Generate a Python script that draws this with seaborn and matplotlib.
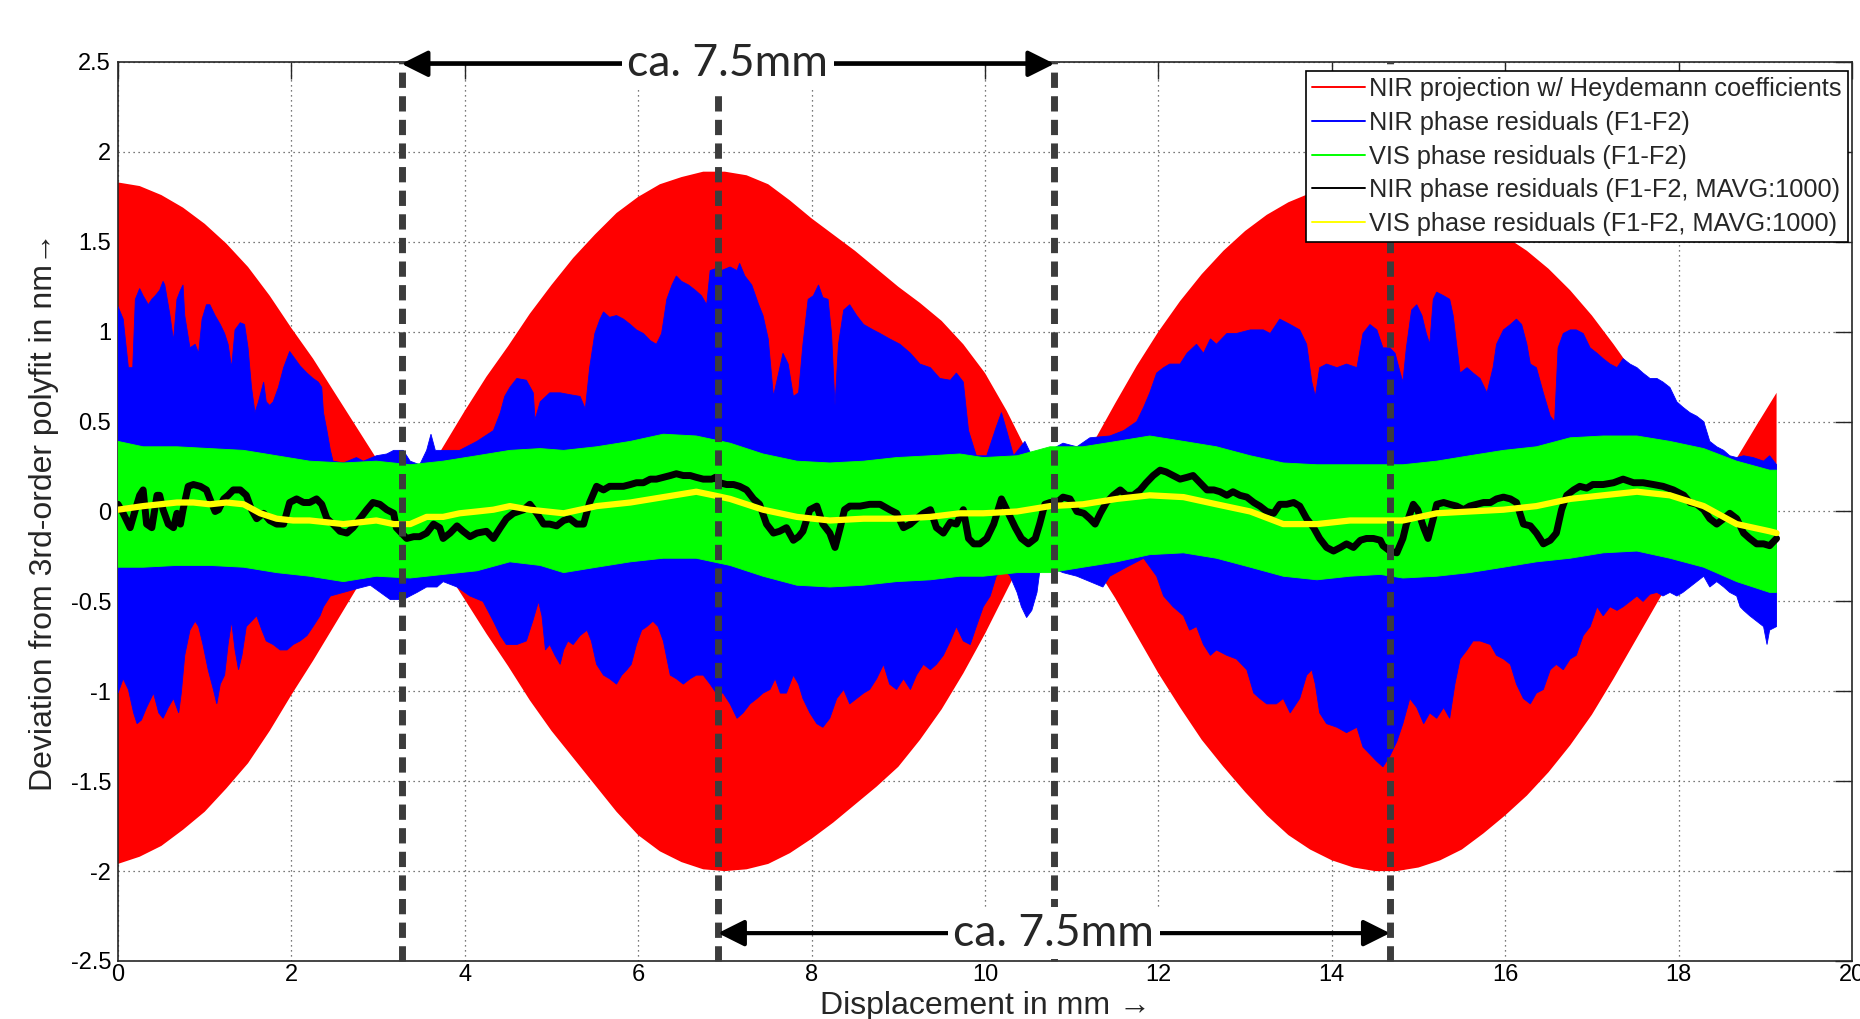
import numpy as np
import pandas as pd
import matplotlib
matplotlib.use("Agg")
import matplotlib.pyplot as plt
from matplotlib.lines import Line2D
import seaborn as sns

# ---------------- data ----------------
# NIR projection w/ Heydemann coefficients (envelope of dense oscillation)
red_up_x = [0.0, 0.25, 0.5, 0.75, 1.0, 1.25, 1.5, 1.75, 2.0, 2.25, 2.5, 2.75, 3.0, 3.15, 3.3, 3.45, 3.6, 3.8,
            4.0, 4.25, 4.5, 4.75, 5.0, 5.25, 5.5, 5.75, 6.0, 6.25, 6.5, 6.75, 7.0, 7.25, 7.5, 7.75, 8.0, 8.25,
            8.5, 8.75, 9.0, 9.25, 9.5, 9.75, 10.0, 10.25, 10.5, 10.65, 10.8, 11.0, 11.2, 11.5, 11.75, 12.0,
            12.25, 12.5, 12.75, 13.0, 13.25, 13.5, 13.75, 14.0, 14.25, 14.5, 14.75, 15.0, 15.25, 15.5, 15.75,
            16.0, 16.25, 16.5, 16.75, 17.0, 17.25, 17.5, 17.75, 18.0, 18.15, 18.3, 18.5, 18.7, 18.9, 19.13]
red_up_y = [1.83, 1.81, 1.76, 1.69, 1.60, 1.49, 1.36, 1.20, 1.02, 0.85, 0.66, 0.47, 0.28, 0.15, 0.0, 0.12,
            0.24, 0.40, 0.56, 0.75, 0.92, 1.10, 1.26, 1.41, 1.54, 1.66, 1.75, 1.82, 1.86, 1.89, 1.89, 1.87,
            1.82, 1.73, 1.63, 1.54, 1.45, 1.35, 1.25, 1.16, 1.06, 0.93, 0.77, 0.56, 0.32, 0.16, 0.0, 0.17,
            0.34, 0.60, 0.81, 1.00, 1.17, 1.32, 1.45, 1.56, 1.65, 1.72, 1.77, 1.80, 1.81, 1.80, 1.78, 1.76,
            1.72, 1.67, 1.61, 1.53, 1.45, 1.35, 1.23, 1.09, 0.93, 0.76, 0.56, 0.34, 0.17, 0.0, 0.16, 0.32,
            0.48, 0.66]
red_lo_x = red_up_x
red_lo_y = [-1.96, -1.92, -1.86, -1.77, -1.67, -1.54, -1.40, -1.22, -1.02, -0.83, -0.63, -0.43, -0.24, -0.12,
            0.0, -0.09, -0.19, -0.34, -0.49, -0.68, -0.86, -1.05, -1.22, -1.37, -1.52, -1.67, -1.80, -1.89,
            -1.95, -1.99, -2.0, -1.99, -1.96, -1.90, -1.82, -1.73, -1.63, -1.53, -1.42, -1.27, -1.10, -0.90,
            -0.68, -0.44, -0.20, -0.09, 0.0, -0.13, -0.25, -0.48, -0.69, -0.90, -1.09, -1.27, -1.42, -1.56,
            -1.69, -1.80, -1.88, -1.94, -1.98, -2.0, -2.0, -1.98, -1.94, -1.88, -1.79, -1.69, -1.58, -1.45,
            -1.30, -1.13, -0.93, -0.72, -0.51, -0.30, -0.15, 0.0, -0.15, -0.30, -0.45, -0.62]

# NIR phase residuals (F1-F2): upper / lower envelope
blue_up = [(0.0, 1.14), (0.06, 1.07), (0.12, 0.80), (0.17, 0.80), (0.20, 1.18), (0.25, 1.24), (0.29, 1.20),
           (0.35, 1.15), (0.39, 1.18), (0.43, 1.20), (0.48, 1.23), (0.52, 1.28), (0.54, 1.26), (0.60, 1.09),
           (0.64, 0.95), (0.68, 1.18), (0.72, 1.23), (0.75, 1.26), (0.77, 1.09), (0.83, 0.91), (0.89, 0.93),
           (0.93, 0.88), (0.97, 1.07), (1.02, 1.15), (1.06, 1.15), (1.12, 1.09), (1.18, 1.04), (1.23, 0.99),
           (1.27, 0.93), (1.31, 0.80), (1.35, 1.01), (1.41, 1.05), (1.46, 1.04), (1.50, 0.91), (1.54, 0.69),
           (1.58, 0.55), (1.62, 0.61), (1.68, 0.72), (1.71, 0.61), (1.75, 0.59), (1.79, 0.61), (1.85, 0.69),
           (1.91, 0.80), (1.98, 0.89), (2.04, 0.85), (2.10, 0.81), (2.18, 0.77), (2.25, 0.74), (2.31, 0.72),
           (2.35, 0.69), (2.37, 0.55), (2.41, 0.45), (2.45, 0.34), (2.48, 0.28), (2.60, 0.27), (2.75, 0.30),
           (2.83, 0.28), (2.98, 0.31), (3.10, 0.32), (3.18, 0.34), (3.29, 0.34), (3.37, 0.28), (3.48, 0.26),
           (3.56, 0.34), (3.61, 0.43), (3.66, 0.34), (3.75, 0.34), (3.94, 0.34), (4.14, 0.39), (4.33, 0.45),
           (4.41, 0.55), (4.46, 0.64), (4.52, 0.69), (4.60, 0.74), (4.71, 0.73), (4.79, 0.66), (4.81, 0.51),
           (4.87, 0.61), (4.98, 0.66), (5.10, 0.66), (5.21, 0.65), (5.33, 0.64), (5.39, 0.57), (5.44, 0.80),
           (5.50, 0.99), (5.56, 1.07), (5.60, 1.11), (5.67, 1.08), (5.75, 1.09), (5.83, 1.07), (5.91, 1.04),
           (5.98, 1.01), (6.06, 0.99), (6.14, 0.95), (6.21, 0.93), (6.27, 0.99), (6.33, 1.18), (6.39, 1.26),
           (6.44, 1.31), (6.50, 1.28), (6.58, 1.26), (6.66, 1.23), (6.73, 1.20), (6.79, 1.15), (6.83, 1.34),
           (6.89, 1.35), (6.96, 1.34), (7.06, 1.36), (7.14, 1.34), (7.17, 1.38), (7.23, 1.31), (7.31, 1.26),
           (7.39, 1.15), (7.44, 1.09), (7.50, 0.96), (7.56, 0.64), (7.62, 0.77), (7.67, 0.88), (7.73, 0.82),
           (7.79, 0.64), (7.85, 0.66), (7.90, 0.93), (7.96, 1.18), (8.02, 1.20), (8.08, 1.26), (8.13, 1.19),
           (8.19, 1.18), (8.23, 0.99), (8.27, 0.59), (8.31, 0.93), (8.37, 1.12), (8.44, 1.15), (8.52, 1.09),
           (8.60, 1.04), (8.71, 1.01), (8.79, 0.99), (8.90, 0.96), (9.02, 0.93), (9.14, 0.88), (9.25, 0.82),
           (9.37, 0.80), (9.48, 0.74), (9.60, 0.73), (9.67, 0.77), (9.75, 0.72), (9.81, 0.45), (9.90, 0.31),
           (10.02, 0.31), (10.13, 0.47), (10.19, 0.55), (10.25, 0.45), (10.33, 0.31), (10.46, 0.39),
           (10.54, 0.31), (10.75, 0.34), (10.90, 0.38), (11.06, 0.36), (11.21, 0.41), (11.44, 0.42),
           (11.60, 0.45), (11.75, 0.50), (11.83, 0.58), (11.90, 0.66), (11.98, 0.77), (12.06, 0.80),
           (12.13, 0.82), (12.25, 0.82), (12.33, 0.88), (12.44, 0.93), (12.52, 0.88), (12.60, 0.96),
           (12.67, 0.93), (12.79, 0.99), (12.90, 0.99), (13.06, 1.01), (13.21, 1.01), (13.29, 0.99),
           (13.40, 1.07), (13.52, 1.04), (13.63, 1.01), (13.71, 0.93), (13.77, 0.72), (13.81, 0.64),
           (13.86, 0.80), (13.94, 0.82), (14.06, 0.80), (14.17, 0.82), (14.29, 0.80), (14.36, 0.99),
           (14.44, 1.04), (14.52, 1.01), (14.59, 0.91), (14.67, 0.91), (14.73, 0.88), (14.79, 0.77),
           (14.82, 0.72), (14.86, 0.91), (14.92, 1.12), (14.98, 1.15), (15.04, 1.09), (15.09, 0.99),
           (15.13, 0.93), (15.17, 1.18), (15.21, 1.22), (15.29, 1.20), (15.36, 1.18), (15.40, 1.09),
           (15.44, 0.93), (15.48, 0.77), (15.56, 0.80), (15.63, 0.77), (15.71, 0.74), (15.79, 0.66),
           (15.86, 0.80), (15.90, 0.93), (15.98, 1.01), (16.06, 1.04), (16.13, 1.07), (16.19, 1.04),
           (16.25, 0.93), (16.29, 0.82), (16.36, 0.80), (16.44, 0.66), (16.52, 0.53), (16.57, 0.50),
           (16.61, 0.91), (16.67, 0.99), (16.75, 1.01), (16.82, 1.01), (16.90, 0.99), (16.98, 0.91),
           (17.06, 0.88), (17.13, 0.85), (17.21, 0.82), (17.29, 0.80), (17.36, 0.85), (17.44, 0.82),
           (17.52, 0.80), (17.59, 0.77), (17.67, 0.74), (17.75, 0.74), (17.82, 0.72), (17.90, 0.69),
           (17.98, 0.61), (18.05, 0.58), (18.13, 0.55), (18.21, 0.53), (18.29, 0.50), (18.36, 0.39),
           (18.44, 0.36), (18.52, 0.34), (18.59, 0.31), (18.67, 0.30), (18.75, 0.31), (18.86, 0.30),
           (18.98, 0.28), (19.05, 0.31), (19.13, 0.26)]
blue_lo = [(0.0, -1.01), (0.06, -0.93), (0.12, -0.99), (0.18, -1.12), (0.22, -1.18), (0.27, -1.16),
           (0.33, -1.09), (0.41, -1.01), (0.47, -1.12), (0.52, -1.15), (0.58, -1.09), (0.64, -1.04),
           (0.70, -1.12), (0.73, -1.01), (0.77, -0.80), (0.83, -0.66), (0.89, -0.61), (0.93, -0.64),
           (0.98, -0.74), (1.04, -0.88), (1.10, -0.99), (1.14, -1.07), (1.18, -0.96), (1.23, -0.91),
           (1.27, -0.74), (1.31, -0.61), (1.35, -0.77), (1.39, -0.88), (1.43, -0.80), (1.48, -0.64),
           (1.54, -0.61), (1.60, -0.58), (1.66, -0.66), (1.71, -0.72), (1.79, -0.74), (1.87, -0.77),
           (1.95, -0.77), (2.02, -0.74), (2.10, -0.72), (2.18, -0.69), (2.25, -0.64), (2.33, -0.58),
           (2.37, -0.53), (2.45, -0.47), (2.60, -0.45), (2.75, -0.43), (2.91, -0.41), (3.14, -0.49),
           (3.29, -0.49), (3.45, -0.45), (3.56, -0.42), (3.68, -0.42), (3.75, -0.39), (3.91, -0.42),
           (4.06, -0.47), (4.21, -0.50), (4.33, -0.61), (4.41, -0.69), (4.48, -0.74), (4.60, -0.74),
           (4.71, -0.72), (4.79, -0.60), (4.85, -0.50), (4.89, -0.58), (4.93, -0.77), (4.98, -0.74),
           (5.04, -0.80), (5.10, -0.85), (5.14, -0.77), (5.19, -0.72), (5.25, -0.74), (5.33, -0.69),
           (5.41, -0.66), (5.46, -0.72), (5.52, -0.85), (5.60, -0.91), (5.67, -0.93), (5.75, -0.96),
           (5.81, -0.91), (5.87, -0.88), (5.92, -0.85), (5.98, -0.74), (6.04, -0.66), (6.10, -0.64),
           (6.17, -0.61), (6.23, -0.64), (6.29, -0.72), (6.37, -0.91), (6.44, -0.93), (6.52, -0.96),
           (6.60, -0.93), (6.67, -0.91), (6.75, -0.91), (6.83, -0.96), (6.90, -1.01), (6.98, -1.01),
           (7.06, -1.07), (7.14, -1.15), (7.21, -1.12), (7.29, -1.07), (7.37, -1.04), (7.44, -1.01),
           (7.52, -0.99), (7.58, -0.93), (7.64, -1.01), (7.71, -1.01), (7.79, -0.91), (7.85, -0.96),
           (7.90, -1.04), (7.98, -1.12), (8.06, -1.18), (8.13, -1.20), (8.21, -1.15), (8.29, -1.04),
           (8.37, -0.99), (8.44, -1.07), (8.52, -1.04), (8.60, -1.01), (8.67, -0.99), (8.75, -0.93),
           (8.83, -0.85), (8.90, -0.96), (8.98, -0.99), (9.06, -0.93), (9.14, -0.99), (9.21, -0.91),
           (9.29, -0.85), (9.37, -0.88), (9.44, -0.85), (9.52, -0.80), (9.60, -0.72), (9.67, -0.64),
           (9.75, -0.72), (9.83, -0.74), (9.90, -0.64), (9.98, -0.53), (10.06, -0.47), (10.13, -0.36),
           (10.21, -0.31), (10.29, -0.36), (10.37, -0.45), (10.42, -0.53), (10.48, -0.59), (10.54, -0.55),
           (10.60, -0.45), (10.63, -0.34), (10.75, -0.31), (10.90, -0.34), (11.06, -0.36), (11.21, -0.39),
           (11.36, -0.42), (11.44, -0.36), (11.63, -0.31), (11.83, -0.26), (11.98, -0.36), (12.06, -0.47),
           (12.17, -0.53), (12.29, -0.58), (12.36, -0.66), (12.44, -0.64), (12.52, -0.74), (12.60, -0.80),
           (12.67, -0.77), (12.79, -0.80), (12.90, -0.82), (13.02, -0.88), (13.10, -1.01), (13.17, -1.04),
           (13.25, -1.07), (13.36, -1.07), (13.44, -1.04), (13.52, -1.12), (13.63, -1.04), (13.71, -0.91),
           (13.77, -0.88), (13.81, -0.96), (13.86, -1.12), (13.94, -1.18), (14.06, -1.20), (14.17, -1.23),
           (14.29, -1.20), (14.36, -1.31), (14.44, -1.35), (14.52, -1.39), (14.59, -1.42), (14.67, -1.36),
           (14.75, -1.28), (14.82, -1.18), (14.90, -1.04), (14.98, -1.09), (15.06, -1.18), (15.13, -1.12),
           (15.21, -1.15), (15.29, -1.09), (15.36, -1.15), (15.42, -0.96), (15.48, -0.82), (15.56, -0.77),
           (15.63, -0.72), (15.71, -0.72), (15.83, -0.74), (15.90, -0.80), (15.98, -0.82), (16.06, -0.85),
           (16.13, -0.96), (16.21, -1.04), (16.29, -1.07), (16.36, -1.01), (16.44, -0.99), (16.52, -0.88),
           (16.59, -0.85), (16.67, -0.88), (16.75, -0.82), (16.82, -0.80), (16.90, -0.69), (16.98, -0.64),
           (17.06, -0.53), (17.13, -0.58), (17.21, -0.53), (17.29, -0.55), (17.36, -0.53), (17.44, -0.50),
           (17.52, -0.47), (17.59, -0.50), (17.67, -0.46), (17.75, -0.45), (17.82, -0.47), (17.90, -0.45),
           (17.98, -0.47), (18.05, -0.45), (18.13, -0.42), (18.21, -0.39), (18.29, -0.36), (18.36, -0.42),
           (18.44, -0.39), (18.52, -0.42), (18.59, -0.45), (18.67, -0.47), (18.71, -0.53), (18.75, -0.55),
           (18.82, -0.58), (18.90, -0.61), (18.98, -0.64), (19.02, -0.74), (19.05, -0.66), (19.13, -0.64)]

# VIS phase residuals (F1-F2): upper / lower envelope
green_x = [0.0, 0.29, 0.68, 1.06, 1.45, 1.83, 2.21, 2.60, 2.98, 3.37, 3.75, 4.14, 4.52, 4.87, 5.14, 5.52, 5.91,
           6.29, 6.67, 7.06, 7.44, 7.83, 8.21, 8.60, 8.98, 9.37, 9.71, 9.98, 10.37, 10.75, 11.13, 11.52, 11.90,
           12.29, 12.67, 13.06, 13.44, 13.83, 14.21, 14.56, 14.82, 15.21, 15.59, 15.98, 16.36, 16.75, 17.13,
           17.52, 17.90, 18.29, 18.67, 19.05, 19.13]
green_up = [0.39, 0.36, 0.36, 0.35, 0.34, 0.31, 0.28, 0.27, 0.28, 0.26, 0.28, 0.31, 0.34, 0.35, 0.34, 0.36,
            0.39, 0.43, 0.42, 0.38, 0.32, 0.28, 0.27, 0.28, 0.30, 0.31, 0.32, 0.30, 0.31, 0.36, 0.36, 0.39,
            0.42, 0.39, 0.36, 0.31, 0.27, 0.26, 0.26, 0.26, 0.26, 0.28, 0.31, 0.34, 0.36, 0.41, 0.42, 0.42,
            0.39, 0.35, 0.28, 0.23, 0.23]
green_lo = [-0.31, -0.31, -0.30, -0.30, -0.31, -0.34, -0.36, -0.39, -0.36, -0.37, -0.35, -0.33, -0.28, -0.30,
            -0.34, -0.31, -0.28, -0.26, -0.26, -0.30, -0.36, -0.41, -0.42, -0.41, -0.39, -0.38, -0.36, -0.36,
            -0.34, -0.34, -0.31, -0.28, -0.24, -0.23, -0.26, -0.31, -0.36, -0.38, -0.36, -0.35, -0.37, -0.36,
            -0.34, -0.31, -0.28, -0.26, -0.23, -0.22, -0.26, -0.31, -0.39, -0.45, -0.45]

# NIR phase residuals (F1-F2, MAVG:1000)
black_pts = [(0.0, 0.04), (0.06, -0.01), (0.14, -0.09), (0.20, 0.01), (0.25, 0.09), (0.29, 0.12), (0.33, -0.07),
             (0.39, -0.09), (0.45, 0.09), (0.48, 0.09), (0.52, 0.01), (0.58, -0.07), (0.64, -0.09), (0.68, -0.01),
             (0.72, -0.07), (0.75, 0.01), (0.81, 0.14), (0.87, 0.15), (0.95, 0.14), (1.02, 0.12), (1.06, 0.07),
             (1.12, 0.0), (1.16, 0.01), (1.22, 0.07), (1.27, 0.09), (1.33, 0.12), (1.41, 0.12), (1.48, 0.09),
             (1.54, 0.01), (1.60, -0.04), (1.68, -0.01), (1.75, -0.05), (1.83, -0.07), (1.91, -0.07),
             (1.98, 0.05), (2.06, 0.07), (2.14, 0.05), (2.21, 0.05), (2.29, 0.07), (2.35, 0.04), (2.41, -0.04),
             (2.48, -0.07), (2.56, -0.11), (2.64, -0.12), (2.71, -0.09), (2.79, -0.04), (2.87, 0.01),
             (2.94, 0.05), (3.02, 0.04), (3.10, 0.01), (3.18, -0.01), (3.21, -0.09), (3.27, -0.12),
             (3.33, -0.15), (3.41, -0.14), (3.48, -0.14), (3.56, -0.12), (3.64, -0.07), (3.71, -0.09),
             (3.75, -0.15), (3.83, -0.12), (3.91, -0.08), (3.98, -0.11), (4.06, -0.14), (4.14, -0.12),
             (4.25, -0.11), (4.33, -0.15), (4.41, -0.09), (4.48, -0.04), (4.56, -0.01), (4.68, 0.01),
             (4.75, 0.04), (4.83, -0.01), (4.91, -0.07), (4.98, -0.07), (5.06, -0.08), (5.14, -0.05),
             (5.21, -0.04), (5.29, -0.07), (5.37, -0.07), (5.44, 0.05), (5.52, 0.14), (5.60, 0.12),
             (5.67, 0.14), (5.75, 0.14), (5.83, 0.14), (5.91, 0.15), (5.98, 0.16), (6.06, 0.16), (6.14, 0.18),
             (6.21, 0.18), (6.29, 0.19), (6.37, 0.20), (6.44, 0.21), (6.52, 0.20), (6.60, 0.20), (6.67, 0.19),
             (6.75, 0.18), (6.85, 0.18), (6.89, 0.19), (6.94, 0.16), (7.02, 0.15), (7.10, 0.15), (7.17, 0.14),
             (7.25, 0.12), (7.33, 0.07), (7.40, 0.04), (7.48, -0.07), (7.56, -0.12), (7.63, -0.11),
             (7.71, -0.09), (7.79, -0.16), (7.85, -0.14), (7.90, -0.11), (7.98, 0.01), (8.06, 0.03),
             (8.13, -0.07), (8.21, -0.12), (8.27, -0.20), (8.33, -0.09), (8.38, 0.01), (8.44, 0.03),
             (8.56, 0.03), (8.67, 0.04), (8.79, 0.04), (8.90, 0.01), (8.98, -0.01), (9.06, -0.09),
             (9.14, -0.07), (9.21, -0.04), (9.29, -0.01), (9.37, 0.01), (9.44, -0.09), (9.52, -0.12),
             (9.60, -0.06), (9.67, -0.07), (9.75, 0.01), (9.81, -0.15), (9.87, -0.18), (9.94, -0.18),
             (10.02, -0.15), (10.10, -0.07), (10.19, 0.07), (10.27, -0.01), (10.35, -0.09), (10.42, -0.15),
             (10.50, -0.18), (10.58, -0.15), (10.63, -0.07), (10.69, 0.04), (10.75, 0.05), (10.83, 0.05),
             (10.90, 0.08), (10.98, 0.07), (11.06, 0.0), (11.14, -0.01), (11.21, -0.04), (11.27, -0.07),
             (11.33, -0.01), (11.40, 0.05), (11.48, 0.09), (11.56, 0.12), (11.63, 0.09), (11.71, 0.09),
             (11.79, 0.12), (11.86, 0.16), (11.94, 0.20), (12.02, 0.23), (12.09, 0.22), (12.17, 0.20),
             (12.25, 0.18), (12.33, 0.19), (12.40, 0.20), (12.48, 0.16), (12.56, 0.12), (12.64, 0.12),
             (12.71, 0.11), (12.79, 0.09), (12.86, 0.11), (12.94, 0.09), (13.02, 0.08), (13.10, 0.05),
             (13.17, 0.03), (13.25, 0.0), (13.33, -0.01), (13.40, 0.04), (13.48, 0.04), (13.56, 0.05),
             (13.63, 0.03), (13.71, -0.04), (13.79, -0.09), (13.86, -0.15), (13.94, -0.20), (14.02, -0.22),
             (14.10, -0.20), (14.17, -0.18), (14.25, -0.20), (14.33, -0.16), (14.40, -0.15), (14.48, -0.15),
             (14.56, -0.16), (14.59, -0.19), (14.67, -0.22), (14.75, -0.23), (14.82, -0.15), (14.86, -0.07),
             (14.94, 0.04), (14.99, 0.01), (15.06, -0.09), (15.11, -0.15), (15.17, -0.04), (15.21, 0.04),
             (15.29, 0.05), (15.36, 0.04), (15.44, 0.03), (15.52, 0.01), (15.59, 0.03), (15.67, 0.04),
             (15.75, 0.05), (15.83, 0.05), (15.90, 0.07), (15.98, 0.08), (16.06, 0.07), (16.13, 0.05),
             (16.21, -0.07), (16.29, -0.08), (16.36, -0.12), (16.44, -0.18), (16.52, -0.16), (16.59, -0.12),
             (16.65, 0.01), (16.71, 0.09), (16.79, 0.12), (16.86, 0.14), (16.94, 0.13), (17.01, 0.15),
             (17.13, 0.15), (17.25, 0.16), (17.36, 0.18), (17.48, 0.16), (17.59, 0.16), (17.71, 0.15),
             (17.82, 0.14), (17.94, 0.12), (18.06, 0.09), (18.13, 0.05), (18.21, 0.04), (18.29, 0.01),
             (18.36, -0.04), (18.44, -0.07), (18.52, -0.04), (18.59, -0.01), (18.67, -0.04), (18.75, -0.12),
             (18.82, -0.15), (18.90, -0.18), (18.98, -0.18), (19.05, -0.19), (19.13, -0.15)]

# VIS phase residuals (F1-F2, MAVG:1000)
yellow_pts = [(0.0, 0.01), (0.29, 0.03), (0.68, 0.05), (0.87, 0.05), (1.06, 0.04), (1.25, 0.05), (1.45, 0.04),
              (1.64, -0.01), (1.83, -0.04), (2.02, -0.05), (2.21, -0.05), (2.60, -0.07), (2.98, -0.05),
              (3.18, -0.07), (3.37, -0.07), (3.56, -0.03), (3.75, -0.03), (3.94, -0.01), (4.14, 0.0),
              (4.33, 0.01), (4.52, 0.03), (4.75, 0.01), (5.14, -0.01), (5.52, 0.03), (5.91, 0.05),
              (6.29, 0.08), (6.67, 0.11), (6.87, 0.09), (7.06, 0.07), (7.44, 0.01), (7.83, -0.03),
              (8.21, -0.05), (8.60, -0.04), (8.98, -0.04), (9.37, -0.03), (9.71, -0.01), (9.98, -0.01),
              (10.37, 0.0), (10.75, 0.03), (11.13, 0.04), (11.52, 0.07), (11.90, 0.09), (12.29, 0.08),
              (12.67, 0.04), (13.06, 0.0), (13.44, -0.07), (13.83, -0.07), (14.21, -0.05), (14.56, -0.05),
              (14.82, -0.05), (15.21, -0.01), (15.59, 0.0), (15.98, 0.01), (16.36, 0.03), (16.75, 0.07),
              (17.13, 0.09), (17.52, 0.11), (17.90, 0.09), (18.29, 0.03), (18.67, -0.07), (19.05, -0.11),
              (19.13, -0.12)]

series_labels = ["NIR projection w/ Heydemann coefficients",
                 "NIR phase residuals (F1-F2)",
                 "VIS phase residuals (F1-F2)",
                 "NIR phase residuals (F1-F2, MAVG:1000)",
                 "VIS phase residuals (F1-F2, MAVG:1000)"]
series_colors = ["#ff0000", "#0000ff", "#00ff00", "#000000", "#ffff00"]

marker_x = [3.27, 6.92, 10.80, 14.67]          # dashed markers (mm)
span_top = (3.27, 10.80, 2.49)                  # arrow from, to, y
span_bottom = (6.92, 14.67, -2.345)
span_text = "ca. 7.5mm"

x_ticks = list(range(0, 21, 2))
y_ticks = [-2.5, -2, -1.5, -1, -0.5, 0, 0.5, 1, 1.5, 2, 2.5]
y_tick_labels = ["-2.5", "-2", "-1.5", "-1", "-0.5", "0", "0.5", "1", "1.5", "2", "2.5"]

# ---------------- style ----------------
sns.set_theme(style="white")
plt.rcParams["font.family"] = ["Liberation Sans", "DejaVu Sans"]
plt.rcParams["axes.unicode_minus"] = False

fig = plt.figure(figsize=(18.6, 10.19), dpi=100)
ax = fig.add_axes([0.06344, 0.05692, 0.93226, 0.88224])


def poly(up_x, up_y, lo_x, lo_y):
    xs = np.concatenate([np.asarray(up_x), np.asarray(lo_x)[::-1]])
    ys = np.concatenate([np.asarray(up_y), np.asarray(lo_y)[::-1]])
    return xs, ys


xs, ys = poly(red_up_x, red_up_y, red_lo_x, red_lo_y)
ax.fill(xs, ys, color=series_colors[0], lw=0, zorder=2)

bu = np.array(blue_up)
bl = np.array(blue_lo)
xs, ys = poly(bu[:, 0], bu[:, 1], bl[:, 0], bl[:, 1])
ax.fill(xs, ys, color=series_colors[1], lw=0.6, edgecolor=series_colors[1], zorder=3)

xs, ys = poly(green_x, green_up, green_x, green_lo)
ax.fill(xs, ys, color=series_colors[2], lw=0.6, edgecolor=series_colors[2], zorder=4)

bk = pd.DataFrame(black_pts, columns=["x", "y"])
yl = pd.DataFrame(yellow_pts, columns=["x", "y"])
sns.lineplot(data=bk, x="x", y="y", sort=False, estimator=None, color=series_colors[3], lw=5.0, ax=ax,
             zorder=5, legend=False)
sns.lineplot(data=yl, x="x", y="y", sort=False, estimator=None, color=series_colors[4], lw=4.5, ax=ax,
             zorder=6, legend=False)

# dashed vertical markers
for mx in marker_x:
    ax.plot([mx, mx], [-2.5, 2.5], color="#3c3c3c", lw=5, linestyle=(0, (2.2, 1.2)), zorder=7,
            solid_capstyle="butt", dash_capstyle="butt", clip_on=False)

# span arrows with labels
for (x0, x1, yy) in (span_top, span_bottom):
    ax.annotate("", xy=(x0, yy), xytext=(x1, yy),
                arrowprops=dict(arrowstyle="<|-|>", color="black", lw=3, mutation_scale=40,
                                shrinkA=0, shrinkB=0),
                zorder=9, annotation_clip=False)
    ax.text((x0 + x1) / 2, yy, span_text, fontsize=32, family=["Lato", "DejaVu Sans"], ha="center",
            va="center", zorder=10, clip_on=False,
            bbox=dict(boxstyle="square,pad=0.12", facecolor="white", edgecolor="none"))

# axes
ax.set_xlim(0, 20)
ax.set_ylim(-2.5, 2.5)
ax.set_xticks(x_ticks)
ax.set_xticklabels([str(t) for t in x_ticks])
ax.set_yticks(y_ticks)
ax.set_yticklabels(y_tick_labels)
ax.grid(True, color="0.3", linestyle=(0, (1, 3)), lw=0.9)
ax.set_axisbelow(True)
for s in ax.spines.values():
    s.set_visible(True)
    s.set_color("0.15")
    s.set_linewidth(1.2)
ax.tick_params(axis="both", direction="in", length=12, width=1, color="0.15", labelsize=17,
               top=True, right=True, labelcolor="black")
ax.tick_params(axis="x", pad=2)
ax.tick_params(axis="y", pad=5)
ax.set_xlabel("Displacement in mm \u2192", fontsize=23, labelpad=4)
ax.set_ylabel("Deviation from 3rd-order polyfit in nm\u2192", fontsize=23, labelpad=8)

handles = [Line2D([], [], color=c, lw=1.4) for c in series_colors]
leg = ax.legend(handles, series_labels, loc="upper right", bbox_to_anchor=(0.9977, 0.990),
                borderaxespad=0, fontsize=18.3, frameon=True, fancybox=False, framealpha=1,
                edgecolor="black", handlelength=2.1, handletextpad=0.15, borderpad=0.25,
                labelspacing=0.38)
leg.get_frame().set_linewidth(1.2)
leg.set_zorder(20)

fig.savefig("out.png", dpi=100)
